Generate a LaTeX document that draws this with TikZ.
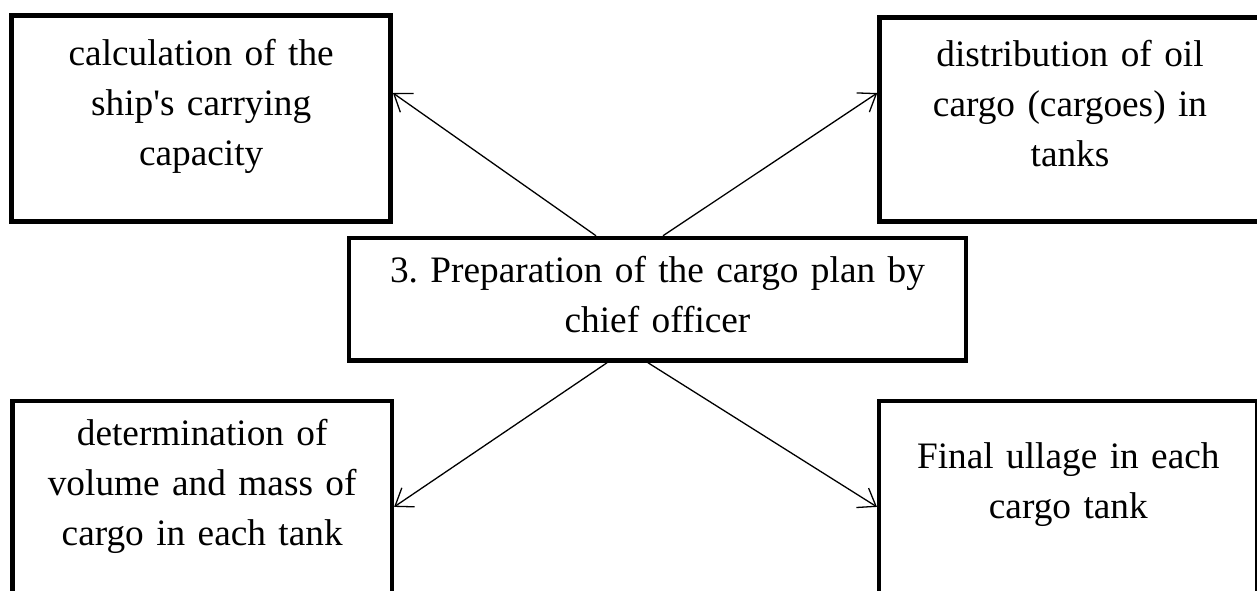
\documentclass[tikz,border=0pt]{standalone}
\usepackage{fontspec}
\setmainfont{Liberation Serif}
\frenchspacing
\usetikzlibrary{arrows.meta,calc}

\tikzset{
  block/.style={draw,line width=4.5pt,inner sep=0pt,align=center,
    font=\fontsize{37.3}{50}\selectfont},
  flow/.style={-{Straight Barb[length=16pt,width=23pt]},line width=1.3pt}
}

\begin{document}
\begin{tikzpicture}[x=1pt,y=-1pt]
	\useasboundingbox (0,0) rectangle (1257,590);
	\node[block,text width=617pt,text height=44pt,text depth=78.5pt] (plan) at (657.5,299.25) {3. Preparation of the cargo plan by\\chief officer};
	\node[block,text width=379pt,text height=49.5pt,text depth=156.7pt] (calc) at (201.2,118.6) {calculation of the\\ship\textquotesingle s carrying\\capacity};
	\node[block,text width=381pt,text height=49.2pt,text depth=155pt] (dist) at (1070,119.6) {distribution of oil\\cargo (cargoes) in\\tanks};
	\node[block,text width=379.3pt,text height=44.2pt,text depth=162pt] (vol) at (202.2,503.9) {determination of\\volume and mass of\\cargo in each tank};
	\node[block,text width=378.2pt,text height=67.5pt,text depth=138.7pt] (ull) at (1068.3,503.9) {Final ullage in each\\cargo tank};
	\draw[flow] ($(plan.north)+(-61.5,0)$) -- ($(calc.east)+(0,-25.6)$);
	\draw[flow] ($(plan.north)+(5.5,0)$) -- ($(dist.west)+(0,-26.6)$);
	\draw[flow] ($(plan.south)+(-50.5,0)$) -- ($(vol.east)+(0,3)$);
	\draw[flow] ($(plan.south)+(-9.5,0)$) -- ($(ull.west)+(0,3)$);
\end{tikzpicture}
\end{document}
